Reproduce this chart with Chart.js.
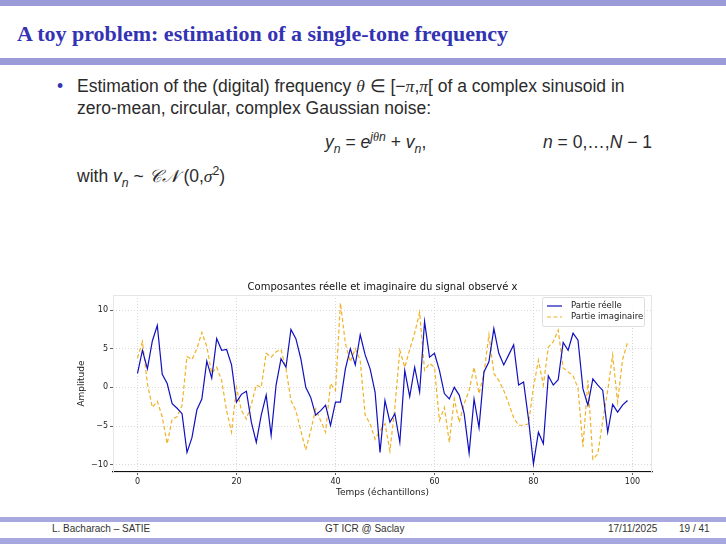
<!DOCTYPE html>
<html>
<head>
<meta charset="utf-8">
<script src="https://cdn.jsdelivr.net/npm/chart.js@4.4.1/dist/chart.umd.min.js"></script>
<style>
  html, body { margin: 0; padding: 0; background: #fff; }
  #slide { position: relative; width: 726px; height: 544px; overflow: hidden; background: #fff; }
  .bar { position: absolute; left: 0; width: 726px; background: #9b9bd9; }
  .t { position: absolute; white-space: nowrap; }
  #title { left: 17px; top: 21px; font: bold 22px "Liberation Serif", serif; color: #3333b3; }
  .body { font: 17.5px "Liberation Sans", sans-serif; color: #2b2b2b; }
  .m { font-family: "Liberation Serif", serif; font-style: italic; }
  .v { font-style: italic; }
  sub, sup { font-size: 70%; line-height: 0; }
  .foot { font: 10px "Liberation Sans", sans-serif; color: #333; top: 523px; }
  #chartBox { position: absolute; left: 60px; top: 275px; width: 605px; height: 225px; }
</style>
</head>
<body>
<div id="slide">
  <div class="bar" style="top:0;height:6px;"></div>
  <div class="t" id="title">A toy problem: estimation of a single-tone frequency</div>
  <div class="bar" style="top:58px;height:7px;"></div>

  <div class="t body" style="left:57px;top:76px;color:#3333b3;">•</div>
  <div class="t body" style="left:77px;top:76px;">Estimation of the (digital) frequency <span class="m">θ</span> ∈ [−<span class="m">π</span>,<span class="m">π</span>[ of a complex sinusoid in</div>
  <div class="t body" style="left:77px;top:98px;">zero-mean, circular, complex Gaussian noise:</div>
  <div class="t body" style="left:325px;top:132px;"><span class="v">y<sub>n</sub></span> = <span class="v">e<sup>j<span class="m">θ</span>n</sup></span> + <span class="v">v<sub>n</sub></span>,</div>
  <div class="t body" style="left:543px;top:132px;"><span class="v">n</span> = 0,…,<span class="v">N</span> − 1</div>
  <div class="t body" style="left:77px;top:166px;">with <span class="v">v<sub>n</sub></span> ~ <span class="m">𝒞𝒩</span> (0,<span class="m">σ</span><sup>2</sup>)</div>

  <div id="chartBox"><canvas id="chart"></canvas></div>

  <div class="bar" style="top:517px;height:5px;background:#a8a8e0;"></div>
  <div class="t foot" style="left:52px;">L. Bacharach – SATIE</div>
  <div class="t foot" style="left:325px;">GT ICR @ Saclay</div>
  <div class="t foot" style="left:608px;">17/11/2025</div>
  <div class="t foot" style="left:679px;">19 / 41</div>
  <div class="bar" style="top:538px;height:6px;background:#a8a8e0;"></div>
</div>

<script>
// observed signal x, samples n = 0..99
const partieReelle = [
  1.8, 4.8, 2.4, 6.0, 8.0, 1.7, 0.5, -2.1, -2.7, -3.4,
  -8.4, -6.5, -2.9, -1.5, 3.4, 1.2, 6.3, 4.8, 4.9, 2.9,
  -1.9, -0.9, -0.5, -4.5, -7.1, -3.6, -1.0, -6.2, 0.3, 3.7,
  2.6, 7.5, 6.3, 3.7, 0.0, -1.3, -3.6, -3.0, -2.3, -4.9,
  -1.9, -1.9, 2.4, 5.0, 2.9, 6.8, 4.2, 2.4, -0.6, -8.4,
  -1.7, -4.5, -3.4, -7.1, 2.2, -1.2, 2.6, -0.6, 8.5, 3.9,
  4.4, 2.2, -0.8, -1.5, 0.0, -1.0, -3.4, -8.5, -1.5, -5.2,
  2.0, 3.3, 7.6, 4.4, 2.9, 4.2, 5.5, 0.3, 0.7, -4.1,
  -9.9, -5.8, -7.3, 1.5, 0.3, 1.0, 5.8, 4.8, 7.0, 6.1,
  -0.2, -2.3, 1.1, 0.3, -0.4, -5.8, -2.2, -3.2, -2.3, -1.7
];
const partieImaginaire = [
  3.8, 5.9, 0.5, -2.6, -1.8, -3.8, -7.3, -4.1, -3.8, -2.3,
  4.0, 3.6, 5.0, 7.1, 5.3, 1.8, 2.6, 0.9, -3.0, -5.8,
  0.0, -3.0, -4.1, -2.2, 0.3, 0.0, 4.4, 3.9, 4.6, 4.9,
  2.4, -1.7, -3.0, -5.6, -8.1, -5.6, -2.8, -4.3, -5.8, 0.5,
  -0.4, 10.9, 5.7, 3.3, 5.0, 3.5, -3.6, -4.7, -6.7, -5.6,
  -4.7, -8.2, -2.6, 4.8, 2.6, 4.9, 7.0, 9.7, 2.2, 3.1,
  2.6, -4.3, -2.6, -7.1, -1.5, -4.5, -2.1, -0.4, 2.6, -0.8,
  1.8, 6.8, 1.8, 0.9, -0.4, -2.1, -3.9, -4.9, -4.9, -4.7,
  0.0, 3.5, 0.3, 5.2, 5.9, 7.4, 2.5, 2.0, 1.5, -0.1,
  -7.7, 0.9, -9.3, -8.6, -4.3, -0.4, 4.2, -1.9, 3.6, 5.8
];
const xTicks = [0, 20, 40, 60, 80, 100];
const yTicks = [-10, -5, 0, 5, 10];

const toPoints = arr => arr.map((v, i) => ({ x: i, y: v }));
const minus = v => String(v).replace('-', '\u2212');

// matplotlib-like frame (light box) behind the data
const framePlugin = {
  id: 'frame',
  beforeDatasetsDraw(chart) {
    const { ctx, chartArea: a } = chart;
    ctx.save();
    ctx.strokeStyle = '#e6e6e6';
    ctx.lineWidth = 1;
    ctx.strokeRect(a.left + 0.5, a.top + 0.5, a.right - a.left - 1, a.bottom - a.top);
    ctx.restore();
  }
};

// legend box in the upper right corner of the axes
const legendPlugin = {
  id: 'boxLegend',
  afterDatasetsDraw(chart) {
    const { ctx, chartArea: a } = chart;
    const sets = chart.data.datasets;
    const w = 102, h = 29, x = a.right - w - 8, y = a.top + 2;
    ctx.save();
    ctx.fillStyle = 'rgba(255,255,255,0.85)';
    ctx.strokeStyle = '#dddddd';
    ctx.lineWidth = 1;
    ctx.beginPath();
    ctx.roundRect(x + 0.5, y + 0.5, w, h, 2);
    ctx.fill();
    ctx.stroke();
    ctx.font = '8.5px "DejaVu Sans", sans-serif';
    ctx.textBaseline = 'middle';
    sets.forEach((ds, i) => {
      const ly = y + 9 + i * 11;
      ctx.strokeStyle = ds.borderColor;
      ctx.lineWidth = ds.borderWidth;
      ctx.setLineDash(ds.borderDash || []);
      ctx.beginPath();
      ctx.moveTo(x + 5, ly);
      ctx.lineTo(x + 20, ly);
      ctx.stroke();
      ctx.setLineDash([]);
      ctx.fillStyle = '#222';
      ctx.fillText(ds.label, x + 29, ly);
    });
    ctx.restore();
  }
};

const tickFont = { family: '"DejaVu Sans", sans-serif', size: 8 };

new Chart(document.getElementById('chart'), {
  type: 'line',
  data: {
    datasets: [
      {
        label: 'Partie réelle',
        data: toPoints(partieReelle),
        borderColor: '#1010bf',
        borderWidth: 1.2,
        pointRadius: 0,
        tension: 0
      },
      {
        label: 'Partie imaginaire',
        data: toPoints(partieImaginaire),
        borderColor: '#f0b224',
        borderWidth: 1.2,
        borderDash: [4, 2.5],
        pointRadius: 0,
        tension: 0
      }
    ]
  },
  options: {
    responsive: true,
    maintainAspectRatio: false,
    animation: false,
    layout: { padding: { right: 13 } },
    plugins: {
      legend: { display: false },
      tooltip: { enabled: false },
      title: {
        display: true,
        fullSize: false,
        text: 'Composantes réelle et imaginaire du signal observé x',
        color: '#111',
        font: { family: '"DejaVu Sans", sans-serif', size: 10, weight: 'normal' },
        padding: { top: 6, bottom: 2 }
      }
    },
    scales: {
      x: {
        type: 'linear',
        min: -4.95,
        max: 103.95,
        afterFit: s => { s.height = 28; },
        afterBuildTicks: s => { s.ticks = xTicks.map(v => ({ value: v })); },
        ticks: { color: '#222', font: tickFont, padding: 2, maxRotation: 0 },
        grid: { color: '#cfcfcf', tickColor: '#333', tickLength: 3, lineWidth: 0.8 },
        border: { display: true, color: '#111', width: 1.2, dash: [1, 2] },
        title: {
          display: true,
          text: 'Temps (échantillons)',
          color: '#222',
          font: { family: '"DejaVu Sans", sans-serif', size: 9 },
          padding: { top: 0, bottom: 2 }
        }
      },
      y: {
        min: -10.94,
        max: 11.94,
        afterFit: s => { s.width = 53; },
        afterBuildTicks: s => { s.ticks = yTicks.map(v => ({ value: v })); },
        ticks: { color: '#222', font: tickFont, padding: 2, callback: v => minus(v) },
        grid: { color: '#cfcfcf', tickColor: '#333', tickLength: 3, lineWidth: 0.8 },
        border: { display: false, dash: [1, 2] },
        title: {
          display: true,
          text: 'Amplitude',
          color: '#222',
          font: { family: '"DejaVu Sans", sans-serif', size: 9 },
          padding: { top: 16, bottom: 0 }
        }
      }
    }
  },
  plugins: [framePlugin, legendPlugin]
});
</script>
</body>
</html>
